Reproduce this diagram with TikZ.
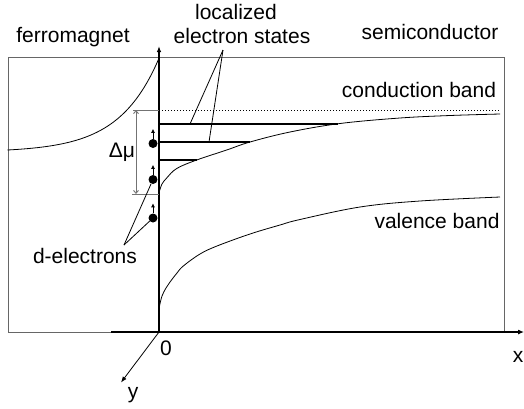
\documentclass[tikz,border=0pt]{standalone}
\usepackage{fontspec}
\setmainfont{Liberation Sans}
\usetikzlibrary{arrows.meta}
\begin{document}
\begin{tikzpicture}[x=1pt,y=-1pt,
  lbl/.style={font=\fontsize{21}{24}\selectfont, inner sep=0pt, anchor=base},
  frame/.style={draw=black!60, line width=0.9pt},
  axisline/.style={line width=1.8pt, -{Latex[length=6pt,width=4.5pt]}},
  xaxisline/.style={line width=1.1pt, -{Latex[length=6pt,width=5pt]}},
  yaxisline/.style={line width=0.8pt, -{Latex[length=6pt,width=4.5pt]}},
  band/.style={line width=0.8pt},
  level/.style={line width=2.4pt},
  pointer/.style={line width=0.8pt},
  dmu/.style={draw=black!55, line width=0.9pt},
  electron/.style={circle, fill=black, inner sep=0pt, minimum size=9pt},
  spin/.style={line width=0.9pt, -{Latex[length=4pt,width=4pt]}},
]
\useasboundingbox (0,0) rectangle (524,408);

% frame
\draw[frame] (8,57) rectangle (504,332);

% axes
\coordinate (O) at (159,332);
\coordinate (ytop) at (159,46);
\coordinate (xstart) at (111,332);
\coordinate (xend) at (524,332);
\coordinate (yend) at (121,382.5);
\draw[xaxisline] (xstart) -- (xend);
\draw[yaxisline] (O) -- (yend);
\draw[axisline] (O) -- (ytop);

% labels
\node[lbl] (ferro) at (73,42) {ferromagnet};
\node[lbl] (semi) at (430,39) {semiconductor};
\node[lbl] (loc1) at (236,19) {localized};
\node[lbl] (loc2) at (242,43) {electron states};
\node[lbl] (cb) at (419,97) {conduction band};
\node[lbl] (vb) at (437,228) {valence band};
\node[lbl] (de) at (85,263) {d-electrons};
\node[lbl] (dmulbl) at (122,157) {Δμ};
\node[lbl] (zero) at (166,355) {0};
\node[lbl] (ylab) at (133,398) {y};
\node[lbl, anchor=base east] (xlab) at (523.5,362) {x};

% ferromagnet band
\draw[band] plot[domain=7.5:159, samples=80] (\x, {150 - 2.13*(exp(0.025*(\x-7.5))-1)});

% conduction band
\draw[band] plot[smooth, tension=0.6] coordinates {(159.5,191) (162,184) (166.7,178) (176.7,168.5) (196.7,160) (226.7,150) (250,142) (290,132) (340,123.5) (400,118) (450,115.5) (500,114)};

% valence band
\draw[band] plot[smooth, tension=0.6] coordinates {(159.5,306) (162,296) (166,288) (170,282) (177,273) (183.3,266) (200,254) (217,246) (250,234) (280,225) (300,219.5) (360,207) (420,201) (500,197)};

% dotted level
\coordinate (dotS) at (159,110);
\coordinate (dotE) at (500,110);
\draw[line width=0.6pt, dash pattern=on 1pt off 2pt] (dotS) -- (dotE);

% delta mu
\coordinate (dmuTL) at (133,110);
\coordinate (dmuBL) at (132,194);
\coordinate (dmuTR) at (159,110);
\coordinate (dmuBR) at (159,194);
\coordinate (dmuA) at (136,110);
\coordinate (dmuB) at (136,194);
\draw[dmu] (dmuTL) -- (dmuTR);
\draw[dmu] (dmuBL) -- (dmuBR);
\draw[dmu, {Straight Barb[length=3pt,width=5pt]}-{Straight Barb[length=3pt,width=5pt]}] (dmuA) -- (dmuB);

% localized levels
\coordinate (l1s) at (159,124);
\coordinate (l1e) at (338,124);
\coordinate (l2s) at (159,142);
\coordinate (l2e) at (250,142);
\coordinate (l3s) at (159,160);
\coordinate (l3e) at (197,160);
\draw[level] (l1s) -- (l1e);
\draw[level] (l2s) -- (l2e);
\draw[level] (l3s) -- (l3e);

% pointers to levels
\coordinate (locapex) at (223,50);
\coordinate (p1) at (190,124);
\coordinate (p2) at (209,142);
\draw[pointer] (locapex) -- (p1);
\draw[pointer] (locapex) -- (p2);

% electrons
\node[electron] (e1) at (153,143.5) {};
\node[electron] (e2) at (153,179.5) {};
\node[electron] (e3) at (153,218) {};
\draw[spin] (e1.north) -- ++(0,-10);
\draw[spin] (e2.north) -- ++(0,-10);
\draw[spin] (e3.north) -- ++(0,-10);

% pointers to d-electrons
\coordinate (deapex) at (124,245);
\draw[pointer] (deapex) -- (e2);
\draw[pointer] (deapex) -- (e3);
\end{tikzpicture}
\end{document}
